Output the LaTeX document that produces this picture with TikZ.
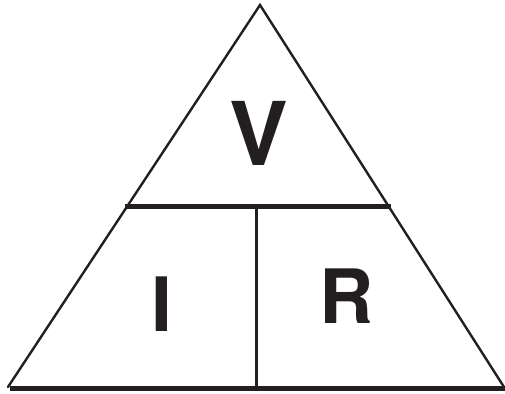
\documentclass[tikz,border=0pt]{standalone}
\usepackage{fontspec}
\setmainfont{TeX Gyre Heros}
\usetikzlibrary{positioning}
\definecolor{ink}{RGB}{35,31,32}
\tikzset{side/.style={draw=ink,line width=2.4pt,line cap=round,line join=miter},
 bar/.style={draw=ink,line width=5pt},
 split/.style={draw=ink,line width=3pt},
 lett/.style={text=ink,inner sep=0pt,font=\bfseries}}

\begin{document}
\begin{tikzpicture}[x=1pt,y=1pt]
\useasboundingbox (0,0) rectangle (505,393);
\coordinate (top) at (260,388);
\coordinate (bl) at (8,6);
\coordinate (br) at (504,6);
\coordinate (ml) at (125,186);
\coordinate (mr) at (391,186);
\coordinate (mc) at (256,186);
\coordinate (bc) at (256,4);
\draw[side] (bl)--(top)--(br);
\draw[bar,line width=5.5pt] (10,4.5)--(505,4.5);
\draw[bar] (ml)--(mr);
\draw[split] (mc)--(bc);
\node[lett,font=\bfseries\fontsize{88}{88}\selectfont] (v) at (259,260) {V};
\node[lett,font=\bfseries\fontsize{75}{75}\selectfont] (i) at (161.5,89) {I};
\node[lett,font=\bfseries\fontsize{75}{75}\selectfont] (r) at (347,97) {R};
\end{tikzpicture}
\end{document}
